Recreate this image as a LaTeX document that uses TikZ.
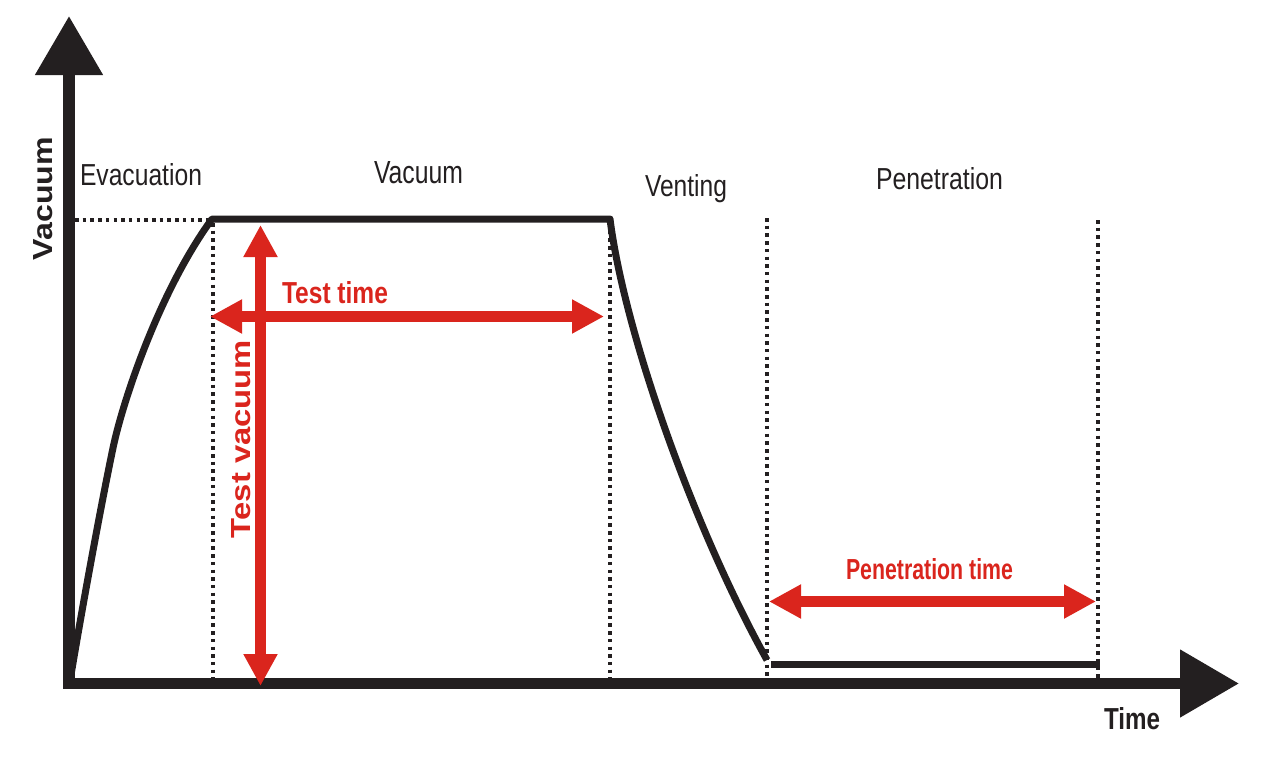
\documentclass[tikz,border=0pt]{standalone}
\usepackage{fontspec}
\setmainfont{Liberation Sans}
\usepackage{graphicx}
\usetikzlibrary{arrows.meta}
\definecolor{ink}{HTML}{231F20}
\definecolor{rd}{HTML}{DA251D}
\newcommand{\rsz}[3]{\resizebox{#1pt}{#2pt}{#3}}
\tikzset{
  lbl/.style={inner sep=0pt, outer sep=0pt, anchor=base west, text=ink},
  rlbl/.style={lbl, text=rd},
  dots/.style={ink, line width=3.5pt, dash pattern=on 3.5pt off 4.2pt},
  curve/.style={ink, line width=7pt, line join=round},
  axis/.style={ink, line width=11.5pt, line join=miter,
    {Triangle[width=65pt,length=59pt]}-{Triangle[width=65pt,length=59pt]}},
  rarrow/.style={rd, line width=11pt,
    {Triangle[width=32pt,length=32pt]}-{Triangle[width=32pt,length=32pt]}},
}
\begin{document}
\begin{tikzpicture}[x=1pt,y=-1pt]
\useasboundingbox (0,0) rectangle (1267,766);
% coordinates
\coordinate (O) at (69,683.5);
\coordinate (ytop) at (69,16);
\coordinate (xend) at (1239,683.5);
\coordinate (hl) at (75,220);
\coordinate (S) at (70,681);
\coordinate (M) at (113,448);
\coordinate (A) at (212,219);
\coordinate (B) at (610,219);
\coordinate (C) at (767,660);
\coordinate (L1) at (771,664);
\coordinate (L2) at (1100,664);
% dotted guides
\draw[dots] (hl) -- (209,220);
\draw[dots] (213,223) -- (213,683);
\draw[dots] (610,223) -- (610,683);
\draw[dots] (767,218) -- (767,683);
\draw[dots] (1098,220) -- (1098,683);
% curve
\draw[curve] (S) .. controls (80,620) and (100,510) .. (M)
  .. controls (123,400) and (160,290) .. (A)
  -- (B) .. controls (624,330) and (692,525) .. (C);
\draw[curve, line cap=butt] (L1) -- (L2);
% axes
\draw[axis] (ytop) -- (O) -- (xend);
% red arrows
\coordinate (tvtop) at (260.5,225);
\coordinate (tvbot) at (260.5,686);
\coordinate (ttl) at (210,316.5);
\coordinate (ttr) at (604,316.5);
\coordinate (ptl) at (769,601.5);
\coordinate (ptr) at (1096,601.5);
\draw[rarrow] (tvtop) -- (tvbot);
\draw[rarrow] (ttl) -- (ttr);
\draw[rarrow] (ptl) -- (ptr);
% labels
\node[lbl] (evac) at (80,185) {\rsz{122}{22}{Evacuation}};
\node[lbl] (vac) at (374,183) {\rsz{89}{22}{Vacuum}};
\node[lbl] (vent) at (645,196) {\rsz{82}{22}{Venting}};
\node[lbl] (pen) at (876,189) {\rsz{127}{22}{Penetration}};
\node[rlbl] (tt) at (282,303) {\rsz{106}{22}{\bfseries Test time}};
\node[rlbl] (pt) at (846,579) {\rsz{167}{21}{\bfseries Penetration time}};
\node[lbl] (time) at (1104,729) {\rsz{56}{22}{\bfseries Time}};
\node[lbl, rotate=90] (vaxis) at (52,260) {\rsz{123}{19}{\bfseries Vacuum}};
\node[rlbl, rotate=90] (tv) at (250,538) {\rsz{198}{19}{\bfseries Test vacuum}};
\end{tikzpicture}
\end{document}
